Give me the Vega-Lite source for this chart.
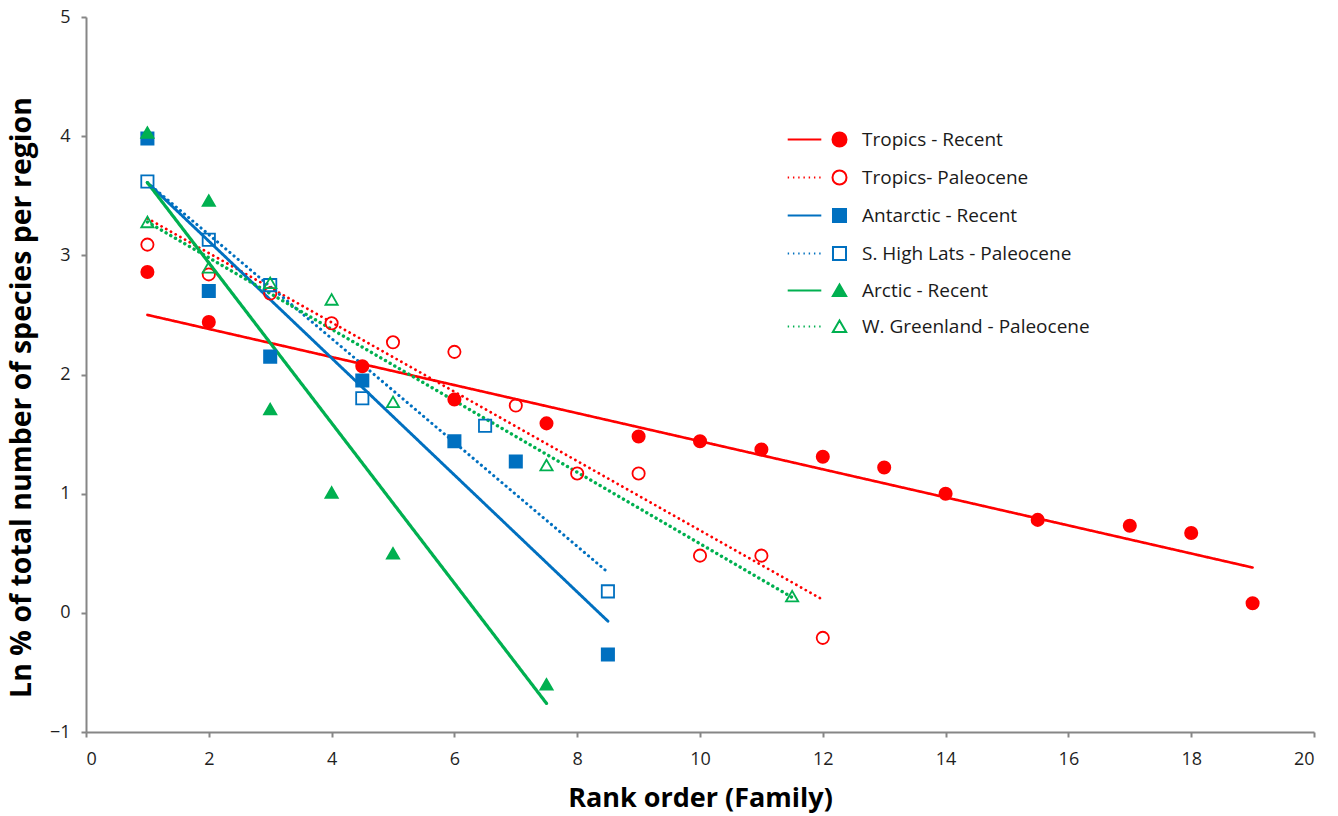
{
  "$schema": "https://vega.github.io/schema/vega-lite/v6.json",
  "width": 1228,
  "height": 715,
  "autosize": {"type": "none"},
  "padding": {"left": 86, "top": 17, "right": 24, "bottom": 84},
  "background": "white",
  "config": {
    "view": {"stroke": null},
    "font": "Open Sans",
    "axis": {
      "grid": false,
      "domainColor": "#868686",
      "domainWidth": 2,
      "tickColor": "#868686",
      "tickWidth": 2,
      "tickSize": 5,
      "labelFont": "Open Sans",
      "labelFontSize": 18,
      "labelColor": "#1f1f1f",
      "titleFont": "Open Sans",
      "titleFontWeight": "bold",
      "titleColor": "#000000"
    }
  },
  "datasets": {
    "pts": [
      {"series": "Tropics - Recent", "rank": 1, "ln": 2.86},
      {"series": "Tropics - Recent", "rank": 2, "ln": 2.44},
      {"series": "Tropics - Recent", "rank": 4.5, "ln": 2.07},
      {"series": "Tropics - Recent", "rank": 6, "ln": 1.79},
      {"series": "Tropics - Recent", "rank": 7.5, "ln": 1.59},
      {"series": "Tropics - Recent", "rank": 9, "ln": 1.48},
      {"series": "Tropics - Recent", "rank": 10, "ln": 1.44},
      {"series": "Tropics - Recent", "rank": 11, "ln": 1.37},
      {"series": "Tropics - Recent", "rank": 12, "ln": 1.31},
      {"series": "Tropics - Recent", "rank": 13, "ln": 1.22},
      {"series": "Tropics - Recent", "rank": 14, "ln": 1.0},
      {"series": "Tropics - Recent", "rank": 15.5, "ln": 0.78},
      {"series": "Tropics - Recent", "rank": 17, "ln": 0.73},
      {"series": "Tropics - Recent", "rank": 18, "ln": 0.67},
      {"series": "Tropics - Recent", "rank": 19, "ln": 0.08},
      {"series": "Tropics- Paleocene", "rank": 1, "ln": 3.09},
      {"series": "Tropics- Paleocene", "rank": 2, "ln": 2.84},
      {"series": "Tropics- Paleocene", "rank": 3, "ln": 2.68},
      {"series": "Tropics- Paleocene", "rank": 4, "ln": 2.43},
      {"series": "Tropics- Paleocene", "rank": 5, "ln": 2.27},
      {"series": "Tropics- Paleocene", "rank": 6, "ln": 2.19},
      {"series": "Tropics- Paleocene", "rank": 7, "ln": 1.74},
      {"series": "Tropics- Paleocene", "rank": 8, "ln": 1.17},
      {"series": "Tropics- Paleocene", "rank": 9, "ln": 1.17},
      {"series": "Tropics- Paleocene", "rank": 10, "ln": 0.48},
      {"series": "Tropics- Paleocene", "rank": 11, "ln": 0.48},
      {"series": "Tropics- Paleocene", "rank": 12, "ln": -0.21},
      {"series": "Antarctic - Recent", "rank": 1, "ln": 3.98},
      {"series": "Antarctic - Recent", "rank": 2, "ln": 2.7},
      {"series": "Antarctic - Recent", "rank": 3, "ln": 2.15},
      {"series": "Antarctic - Recent", "rank": 4.5, "ln": 1.95},
      {"series": "Antarctic - Recent", "rank": 6, "ln": 1.44},
      {"series": "Antarctic - Recent", "rank": 7, "ln": 1.27},
      {"series": "Antarctic - Recent", "rank": 8.5, "ln": -0.35},
      {"series": "S. High Lats - Paleocene", "rank": 1, "ln": 3.62},
      {"series": "S. High Lats - Paleocene", "rank": 2, "ln": 3.13},
      {"series": "S. High Lats - Paleocene", "rank": 3, "ln": 2.75},
      {"series": "S. High Lats - Paleocene", "rank": 4.5, "ln": 1.8},
      {"series": "S. High Lats - Paleocene", "rank": 6.5, "ln": 1.57},
      {"series": "S. High Lats - Paleocene", "rank": 8.5, "ln": 0.18},
      {"series": "Arctic - Recent", "rank": 1, "ln": 4.03},
      {"series": "Arctic - Recent", "rank": 2, "ln": 3.46},
      {"series": "Arctic - Recent", "rank": 3, "ln": 1.71},
      {"series": "Arctic - Recent", "rank": 4, "ln": 1.01},
      {"series": "Arctic - Recent", "rank": 5, "ln": 0.5},
      {"series": "Arctic - Recent", "rank": 7.5, "ln": -0.6},
      {"series": "W. Greenland - Paleocene", "rank": 1, "ln": 3.28},
      {"series": "W. Greenland - Paleocene", "rank": 2, "ln": 2.9},
      {"series": "W. Greenland - Paleocene", "rank": 3, "ln": 2.77},
      {"series": "W. Greenland - Paleocene", "rank": 4, "ln": 2.63},
      {"series": "W. Greenland - Paleocene", "rank": 5, "ln": 1.77},
      {"series": "W. Greenland - Paleocene", "rank": 7.5, "ln": 1.24},
      {"series": "W. Greenland - Paleocene", "rank": 11.5, "ln": 0.14}
    ],
    "trends": [
      {"series": "Tropics - Recent", "rank": 1, "ln": 2.5},
      {"series": "Tropics - Recent", "rank": 19, "ln": 0.38},
      {"series": "Tropics- Paleocene", "rank": 1, "ln": 3.31},
      {"series": "Tropics- Paleocene", "rank": 12, "ln": 0.11},
      {"series": "Antarctic - Recent", "rank": 1, "ln": 3.61},
      {"series": "Antarctic - Recent", "rank": 8.5, "ln": -0.07},
      {"series": "S. High Lats - Paleocene", "rank": 1, "ln": 3.61},
      {"series": "S. High Lats - Paleocene", "rank": 8.5, "ln": 0.34},
      {"series": "Arctic - Recent", "rank": 1, "ln": 3.61},
      {"series": "Arctic - Recent", "rank": 7.5, "ln": -0.76},
      {"series": "W. Greenland - Paleocene", "rank": 1, "ln": 3.28},
      {"series": "W. Greenland - Paleocene", "rank": 11.5, "ln": 0.13}
    ]
  },
  "encoding": {
    "x": {
      "field": "rank",
      "type": "quantitative",
      "scale": {"domain": [0, 20], "nice": false, "zero": false},
      "axis": {"title": "Rank order (Family)", "titleFontSize": 27, "labelFontSize": 18, "values": [0, 2, 4, 6, 8, 10, 12, 14, 16, 18, 20], "labelPadding": 13, "titlePadding": 17}
    },
    "y": {
      "field": "ln",
      "type": "quantitative",
      "scale": {"domain": [-1, 5], "nice": false, "zero": false},
      "axis": {"title": "Ln % of total number of species per region", "titleFontSize": 28.5, "labelFontSize": 18, "titleY": 380, "values": [-1, 0, 1, 2, 3, 4, 5], "labelPadding": 11, "titlePadding": 13}
    }
  },
  "layer": [
    {
      "data": {"name": "trends"},
      "mark": {"type": "line", "strokeCap": "round"},
      "encoding": {
        "color": {
          "field": "series", "type": "nominal", "legend": null,
          "scale": {
            "domain": ["Tropics - Recent", "Tropics- Paleocene", "Antarctic - Recent", "S. High Lats - Paleocene", "Arctic - Recent", "W. Greenland - Paleocene"],
            "range": ["#ff0000", "#ff0000", "#0070c0", "#0070c0", "#00b050", "#00b050"]
          }
        },
        "strokeWidth": {
          "field": "series", "type": "nominal", "legend": null,
          "scale": {
            "domain": ["Tropics - Recent", "Tropics- Paleocene", "Antarctic - Recent", "S. High Lats - Paleocene", "Arctic - Recent", "W. Greenland - Paleocene"],
            "range": [2.6, 3.4, 2.6, 3.4, 2.6, 3.4]
          }
        },
        "strokeDash": {
          "field": "series", "type": "nominal", "legend": null,
          "scale": {
            "domain": ["Tropics - Recent", "Tropics- Paleocene", "Antarctic - Recent", "S. High Lats - Paleocene", "Arctic - Recent", "W. Greenland - Paleocene"],
            "range": [[1, 0], [0.1, 5.3], [1, 0], [0.1, 5.3], [1, 0], [0.1, 5.3]]
          }
        }
      }
    },
    {
      "data": {"name": "pts"},
      "mark": {"type": "point", "filled": false, "size": 150, "strokeWidth": 1.8, "opacity": 1},
      "encoding": {
        "color": {
          "field": "series", "type": "nominal", "legend": null,
          "scale": {
            "domain": ["Tropics - Recent", "Tropics- Paleocene", "Antarctic - Recent", "S. High Lats - Paleocene", "Arctic - Recent", "W. Greenland - Paleocene"],
            "range": ["#ff0000", "#ff0000", "#0070c0", "#0070c0", "#00b050", "#00b050"]
          }
        },
        "fill": {
          "field": "series", "type": "nominal", "legend": null,
          "scale": {
            "domain": ["Tropics - Recent", "Tropics- Paleocene", "Antarctic - Recent", "S. High Lats - Paleocene", "Arctic - Recent", "W. Greenland - Paleocene"],
            "range": ["#ff0000", "transparent", "#0070c0", "transparent", "#00b050", "transparent"]
          }
        },
        "shape": {
          "field": "series", "type": "nominal", "legend": null,
          "scale": {
            "domain": ["Tropics - Recent", "Tropics- Paleocene", "Antarctic - Recent", "S. High Lats - Paleocene", "Arctic - Recent", "W. Greenland - Paleocene"],
            "range": ["circle", "circle", "square", "square", "triangle-up", "triangle-up"]
          }
        }
      }
    },
    {
      "data": {"name": "pts"},
      "transform": [{"filter": "false"}],
      "mark": {"type": "point", "filled": false, "strokeWidth": 2, "opacity": 1},
      "encoding": {
        "color": {
          "field": "series", "type": "nominal",
          "scale": {
            "domain": ["Tropics - Recent", "Tropics- Paleocene", "Antarctic - Recent", "S. High Lats - Paleocene", "Arctic - Recent", "W. Greenland - Paleocene"],
            "range": ["#ff0000", "#ff0000", "#0070c0", "#0070c0", "#00b050", "#00b050"]
          },
          "legend": {
            "title": null, "orient": "none", "legendX": 744, "legendY": 113,
            "symbolSize": 196, "symbolStrokeWidth": 2, "labelFontSize": 19, "labelFont": "Open Sans",
            "labelColor": "#1a1a1a", "labelOffset": 13, "rowPadding": 15, "labelLimit": 400
          }
        },
        "fill": {
          "field": "series", "type": "nominal",
          "scale": {
            "domain": ["Tropics - Recent", "Tropics- Paleocene", "Antarctic - Recent", "S. High Lats - Paleocene", "Arctic - Recent", "W. Greenland - Paleocene"],
            "range": ["#ff0000", "transparent", "#0070c0", "transparent", "#00b050", "transparent"]
          },
          "legend": {
            "title": null, "orient": "none", "legendX": 744, "legendY": 113,
            "symbolSize": 196, "symbolStrokeWidth": 2, "labelFontSize": 19, "labelFont": "Open Sans",
            "labelColor": "#1a1a1a", "labelOffset": 13, "rowPadding": 15, "labelLimit": 400
          }
        },
        "shape": {
          "field": "series", "type": "nominal",
          "scale": {
            "domain": ["Tropics - Recent", "Tropics- Paleocene", "Antarctic - Recent", "S. High Lats - Paleocene", "Arctic - Recent", "W. Greenland - Paleocene"],
            "range": [
              "M-7.4,0L-2.6,0M1,0A1,1,0,1,1,-1,0A1,1,0,1,1,1,0Z",
              "M-7.4,0L-7.2,0M-6.65,0L-6.45,0M-5.9,0L-5.7,0M-5.15,0L-4.95,0M-4.4,0L-4.2,0M-3.65,0L-3.45,0M-2.9,0L-2.7,0M1,0A1,1,0,1,1,-1,0A1,1,0,1,1,1,0Z",
              "M-7.4,0L-2.6,0M-0.93,-0.93L0.93,-0.93L0.93,0.93L-0.93,0.93Z",
              "M-7.4,0L-7.2,0M-6.65,0L-6.45,0M-5.9,0L-5.7,0M-5.15,0L-4.95,0M-4.4,0L-4.2,0M-3.65,0L-3.45,0M-2.9,0L-2.7,0M-0.93,-0.93L0.93,-0.93L0.93,0.93L-0.93,0.93Z",
              "M-7.4,0L-2.6,0M0,-0.85L0.95,0.8L-0.95,0.8Z",
              "M-7.4,0L-7.2,0M-6.65,0L-6.45,0M-5.9,0L-5.7,0M-5.15,0L-4.95,0M-4.4,0L-4.2,0M-3.65,0L-3.45,0M-2.9,0L-2.7,0M0,-0.85L0.95,0.8L-0.95,0.8Z"
            ]
          },
          "legend": {
            "title": null, "orient": "none", "legendX": 744, "legendY": 113,
            "symbolSize": 196, "symbolStrokeWidth": 2, "labelFontSize": 19, "labelFont": "Open Sans",
            "labelColor": "#1a1a1a", "labelOffset": 13, "rowPadding": 15, "labelLimit": 400
          }
        }
      }
    }
  ],
  "resolve": {
    "scale": {"color": "independent", "fill": "independent", "shape": "independent", "strokeDash": "independent", "strokeWidth": "independent"},
    "legend": {"color": "independent", "fill": "independent", "shape": "independent", "strokeDash": "independent", "strokeWidth": "independent"}
  }
}
